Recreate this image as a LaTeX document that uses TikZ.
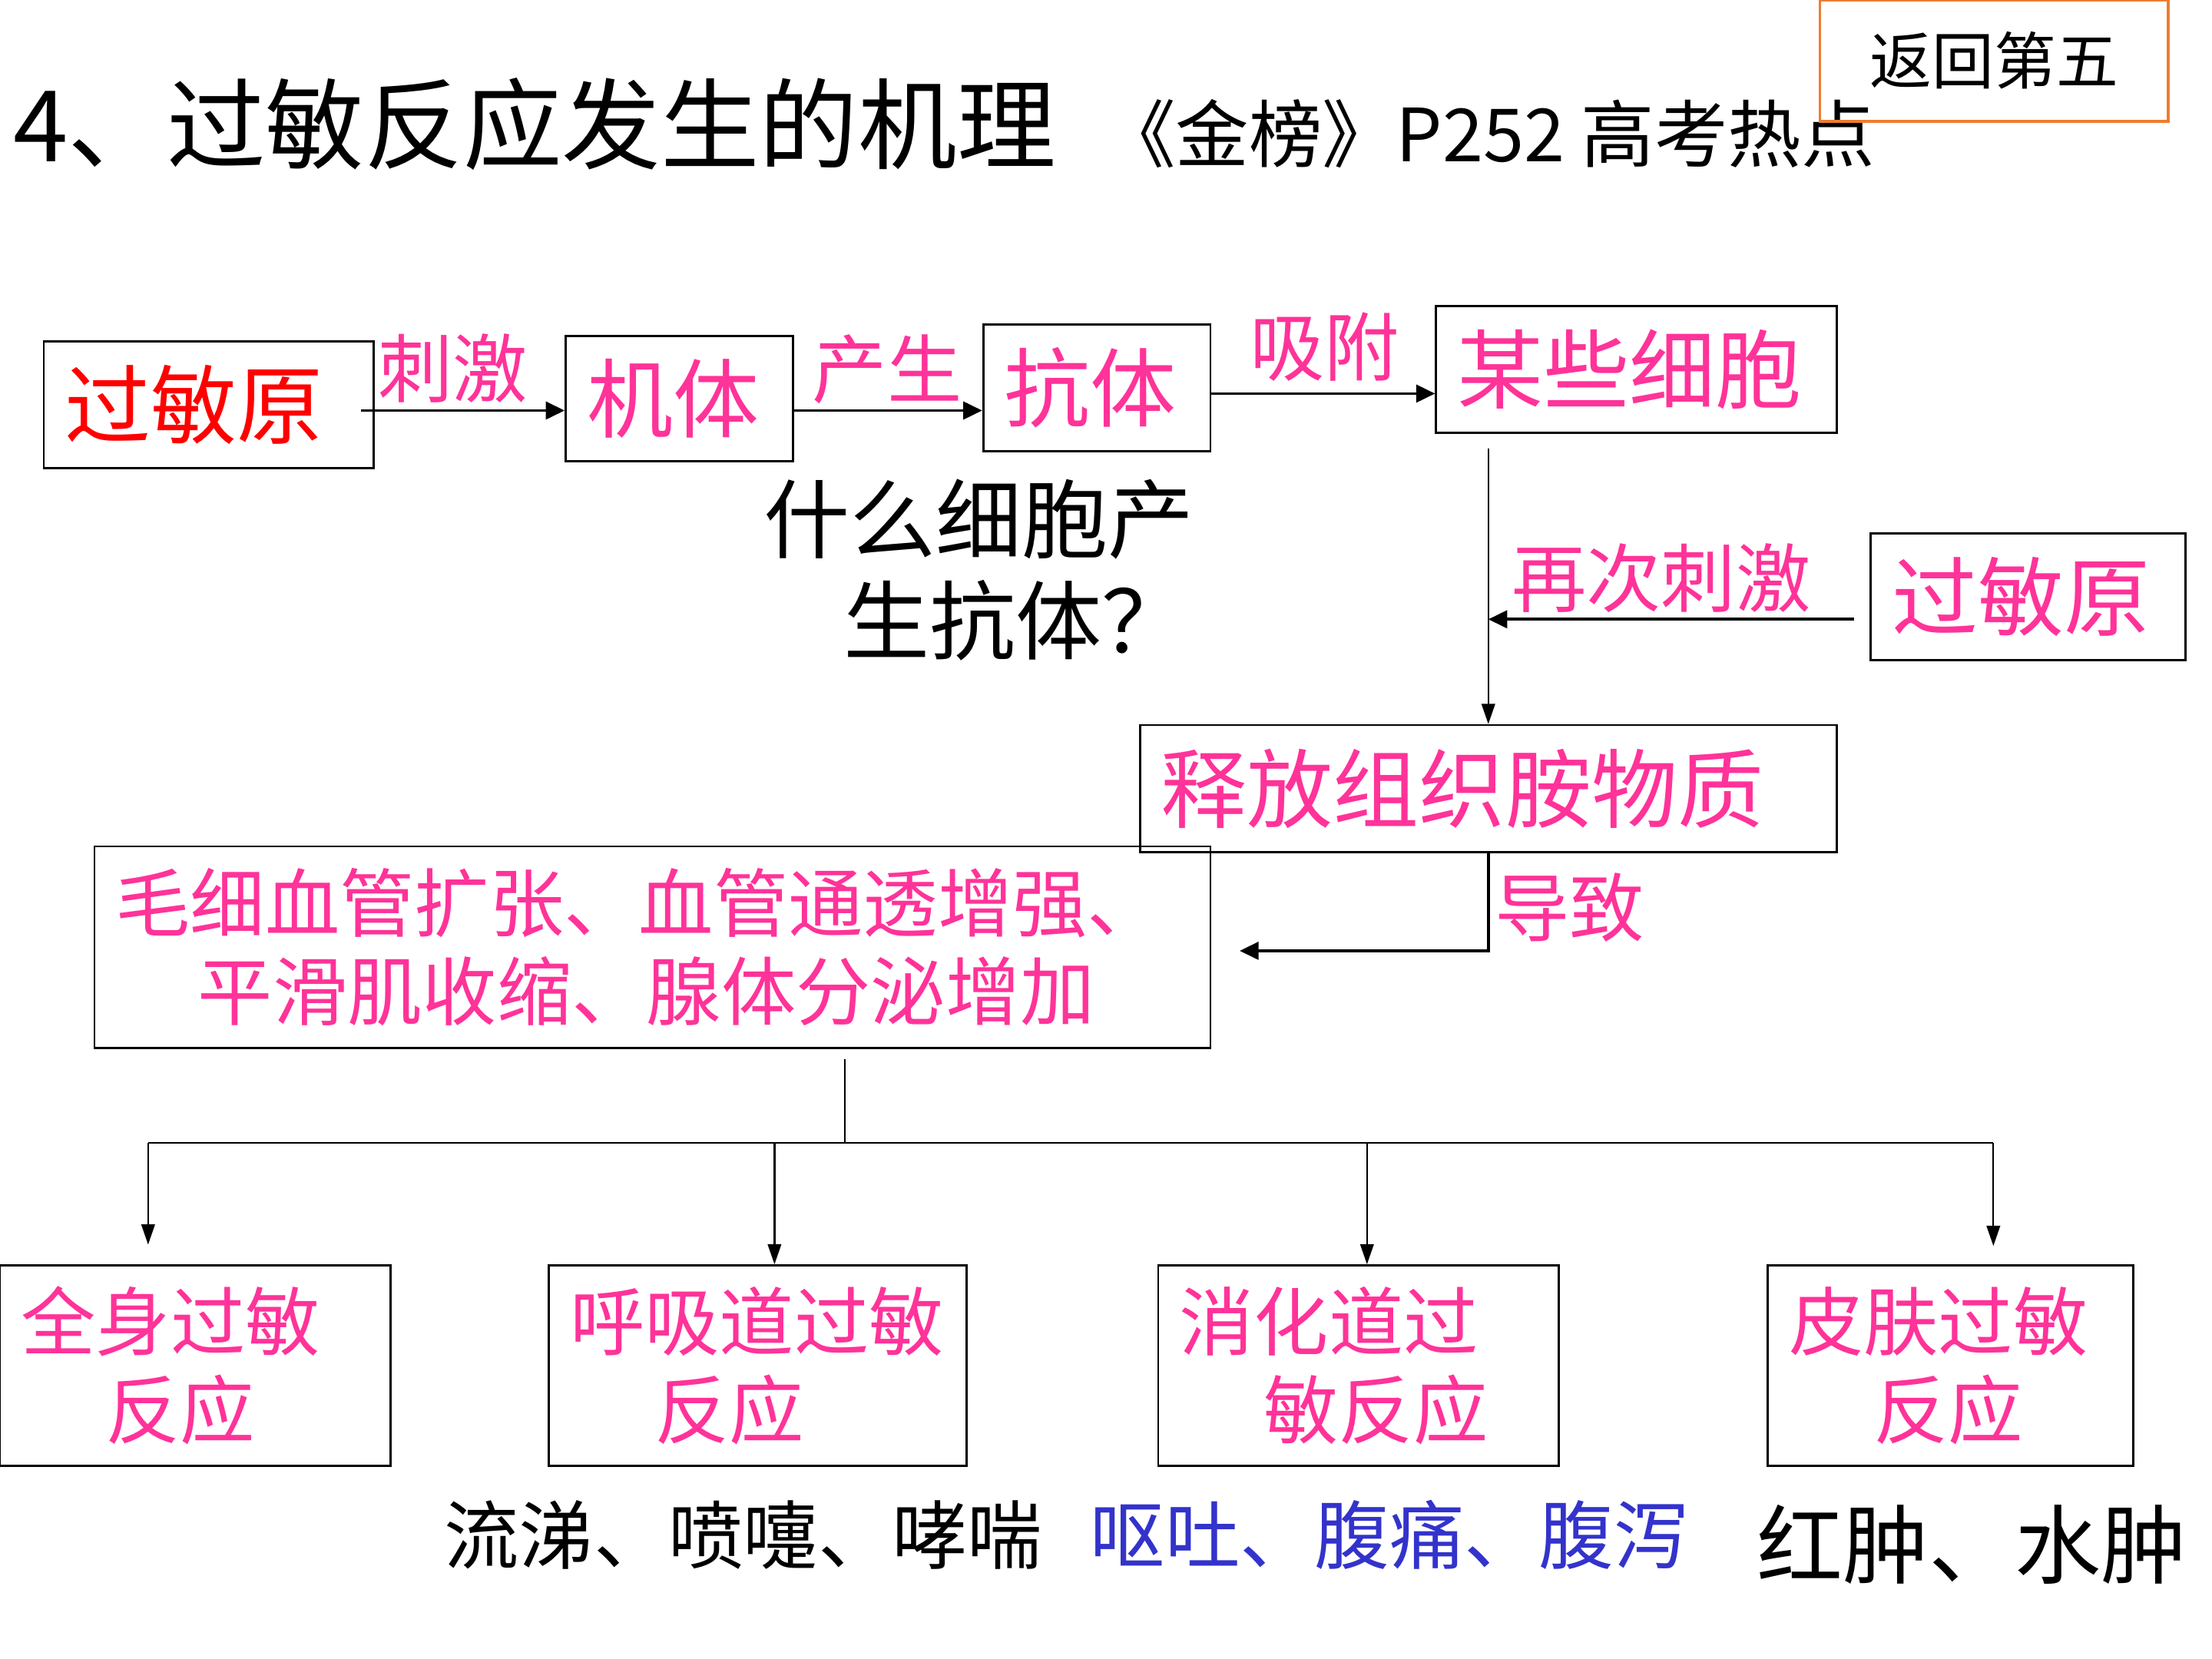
\documentclass[tikz,border=0pt]{standalone}
\usepackage{fontspec}
\setmainfont{Noto Sans CJK SC}
\usetikzlibrary{arrows.meta,calc}
\newdimen\upx \upx=0.018367cm
\definecolor{pinkc}{RGB}{255,51,153}
\definecolor{redc}{RGB}{255,0,0}
\definecolor{bluec}{RGB}{51,51,204}
\definecolor{orangec}{RGB}{237,125,49}
\newcommand\fbig{\fontsize{31.9pt}{37.6pt}\selectfont}
\newcommand\fmid{\fontsize{27.7pt}{32.8pt}\selectfont}
\newcommand\ftitle{\fontsize{36.6pt}{42pt}\selectfont}
\newcommand\fsub{\fontsize{27.2pt}{32pt}\selectfont}
\newcommand\fret{\fontsize{23pt}{27pt}\selectfont}
\tikzset{
  bx/.style={draw, line width=0.8pt, inner xsep=15\upx, inner ysep=0pt, align=left},
  lbl/.style={inner sep=0pt, font=\fmid, text=pinkc},
  arr/.style={line width=1.1pt, -{Triangle[length=7pt,width=6.5pt]}},
  tarr/.style={line width=0.65pt, -{Triangle[length=7.5pt,width=5pt]}},
  tln/.style={line width=0.65pt},
}
\begin{document}
\begin{tikzpicture}[x=0.018367cm, y=-0.018367cm]
\fill[white] (0,0) rectangle (1568,1176);
\useasboundingbox (0,0) rectangle (1568,1176);

% title
\node[anchor=west, inner sep=0pt, font=\ftitle] (T) at (9,88) {4、过敏反应发生的机理};
\node[anchor=west, inner sep=0pt, font=\fsub] (S) at (781,95) {《金榜》P252 高考热点};
\node[draw=orangec, line width=1pt, minimum width=247\upx, minimum height=86\upx, inner sep=0pt, font=\fret] (R) at (1413.5,43) {返回第五};

% first row
\node[bx, text width=204\upx, minimum height=90\upx, font=\fbig, text=redc] (A) at (148,287) {过敏原};
\node[bx, text width=131\upx, minimum height=89\upx, font=\fbig, text=pinkc] (B) at (481.5,282.5) {机体};
\node[bx, text width=131\upx, minimum height=90\upx, font=\fbig, text=pinkc] (C) at (777.5,275) {抗体};
\node[bx, text width=254\upx, minimum height=90\upx, font=\fbig, text=pinkc] (D) at (1160,262) {某些细胞};
\node[bx, text width=193\upx, minimum height=90\upx, font=\fbig, text=pinkc] (E) at (1437.5,423) {过敏原};
\node[bx, text width=464\upx, minimum height=90\upx, font=\fbig, text=pinkc] (F) at (1055,559) {释放组织胺物质};
\node[bx, text width=761\upx, minimum height=143\upx, font=\fmid, text=pinkc] (G) at (462.5,671.5)
  {毛细血管扩张、血管通透增强、\\\hspace*{1.1em}平滑肌收缩、腺体分泌增加};

% question
\node[anchor=west, inner sep=0pt, align=left, font=\fbig] (Q) at (541,404) {什么细胞产\\\hspace*{0.93em}生抗体？};

% labels
\node[lbl] (l1) at (321,261) {刺激};
\node[lbl] (l2) at (629,262) {产生};
\node[lbl] (l3) at (939,246) {吸附};
\node[lbl] (l4) at (1177.5,410) {再次刺激};
\node[lbl] (l5) at (1112.5,643) {导致};

% bottom boxes
\node[bx, text width=247\upx, minimum height=142\upx, font=\fmid, text=pinkc] (H1) at (138.5,968) {全身过敏\\\hspace*{1.13em}反应};
\node[bx, text width=266\upx, minimum height=142\upx, font=\fmid, text=pinkc] (H2) at (537,968) {呼吸道过敏\\\hspace*{1.13em}反应};
\node[bx, text width=254\upx, minimum height=142\upx, font=\fmid, text=pinkc] (H3) at (963,968) {消化道过\\\hspace*{1.13em}敏反应};
\node[bx, text width=229\upx, minimum height=142\upx, font=\fmid, text=pinkc] (H4) at (1382.5,968) {皮肤过敏\\\hspace*{1.13em}反应};

% symptoms
\node[inner sep=0pt, font=\fmid] (s1) at (527,1088) {流涕、喷嚏、哮喘};
\node[inner sep=0pt, font=\fmid, text=bluec] (s2) at (985,1088) {呕吐、腹痛、腹泻};
\node[inner sep=0pt, font=\fbig] (s3) at (1398,1095) {红肿、水肿};

% connectors
\draw[arr] ($(A.east)+(-10,4)$) -- ($(A.east -| B.west)+(0,4)$);
\draw[arr] ($(B.east)+(0,8.5)$) -- ($(B.east -| C.west)+(0,8.5)$);
\draw[arr] ($(C.east)+(0,4)$) -- ($(C.east -| D.west)+(0,4)$);
\draw[tarr] ($(D.south -| F.north)+(0,10)$) -- (F.north);
\draw[arr] ($(E.west)+(-11,16)$) -- ($(E.west -| F.north)+(0,16)$);
\draw[arr] (F.south) |- ($(G.east)+(20,2.5)$);

\coordinate (t0) at ($(G.south)+(136.5,67)$);
\coordinate (t1) at (105,810);
\coordinate (t2) at (549,810);
\coordinate (t3) at (969,810);
\coordinate (t4) at (1413,810);
\draw[tln] ($(G.south)+(136.5,7)$) -- (t0);
\draw[tln] (t1) -- (t4);
\draw[tarr] (t1) -- ($(t1 |- H1.north)+(0,-14)$);
\draw[tarr] (t2) -- (t2 |- H2.north);
\draw[tarr] (t3) -- (t3 |- H3.north);
\draw[tarr] (t4) -- ($(t4 |- H4.north)+(0,-13)$);
\end{tikzpicture}
\end{document}
